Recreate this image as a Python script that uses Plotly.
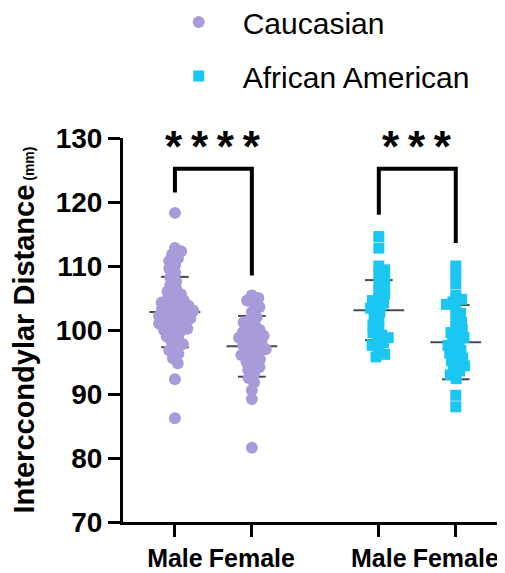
import math
import plotly.graph_objects as go

# ---------------- data ----------------
groups = ["Male", "Female", "Male", "Female"]
group_pos = [0.0, 1.0, 2.65, 3.65]

cauc_male = [118.3, 112.8, 112.3, 111.8, 111.2, 110.8, 110.2, 109.6, 109.0,
             108.2, 107.6, 107.0, 106.4, 106.0, 105.6, 105.2, 104.8, 104.6,
             104.3, 104.0, 103.8, 103.6, 103.4, 103.2, 103.0, 102.8, 102.6,
             102.4, 102.2, 102.0, 101.8, 101.6, 101.4, 101.2, 101.0, 100.7,
             100.4, 100.2, 100.0, 99.7, 99.4, 99.0, 98.6, 98.2, 97.8, 97.3,
             96.8, 96.3, 95.6, 94.8, 92.3, 86.2]
cauc_female = [105.4, 105.0, 104.6, 104.2, 103.6, 102.8, 102.0, 101.6, 101.2,
               100.8, 100.4, 100.0, 99.7, 99.4, 99.1, 98.8, 98.5, 98.2, 97.9,
               97.6, 97.3, 97.0, 96.7, 96.4, 96.1, 95.8, 95.4, 95.0, 94.6,
               94.2, 93.8, 93.2, 92.5, 91.8, 90.6, 89.2, 81.6]
aa_male = [114.6, 112.8, 110.0, 109.4, 108.8, 108.2, 107.4, 106.8, 106.2,
           105.6, 105.0, 104.6, 104.2, 103.8, 103.4, 102.8, 102.2, 101.4,
           100.8, 100.2, 99.6, 99.2, 98.8, 98.4, 98.0, 97.6, 96.8, 96.2, 95.8]
aa_female = [110.0, 108.6, 107.2, 105.4, 104.8, 104.4, 104.0, 103.4, 102.6,
             101.8, 101.2, 100.4, 100.0, 99.6, 99.2, 98.8, 98.4, 98.0, 97.6,
             97.2, 96.8, 96.4, 96.0, 95.6, 95.2, 94.8, 94.4, 94.0, 93.6, 93.0,
             92.4, 89.8, 88.0]

group_means = [102.8, 97.45, 103.1, 98.1]
group_sds = [5.5, 4.75, 4.7, 5.8]

bracket_left_end = [121.5, 118.0]
bracket_right_end = [108.5, 113.6]
bracket_top = [125.2, 125.2]
bracket_labels = ["*\u2009*\u2009*\u2009*", "*\u2009*\u2009*"]

PURPLE = "#A99ADA"
CYAN = "#1CC6F2"

X_PX = 77.0   # pixels per x unit
Y_PX = 6.4    # pixels per y unit


def swarm(vals, d_px):
    placed = []
    out = []
    for v in vals:
        y = v * Y_PX
        cands = [0.0]
        for px, py in placed:
            dy = abs(py - y)
            if dy < d_px:
                dx = math.sqrt(d_px ** 2 - dy ** 2)
                cands += [px + dx, px - dx]
        cands.sort(key=abs)
        chosen = 0.0
        for c in cands:
            if all((c - px) ** 2 + (y - py) ** 2 >= d_px ** 2 - 1e-6 for px, py in placed):
                chosen = c
                break
        placed.append((chosen, y))
        out.append(chosen / X_PX)
    return out


fig = go.Figure()

# mean and SD lines (behind points)
lx, ly = [], []
for pos, m, s in zip(group_pos, group_means, group_sds):
    for val, hw in ((m, 0.33), (m + s, 0.18), (m - s, 0.18)):
        lx += [pos - hw, pos + hw, None]
        ly += [val, val, None]
fig.add_trace(go.Scatter(x=lx, y=ly, mode="lines", showlegend=False,
                         line=dict(color="#4a4a4a", width=2), hoverinfo="skip"))

cx, cy = [], []
for pos, vals in ((group_pos[0], cauc_male), (group_pos[1], cauc_female)):
    offs = swarm(vals, 7.0)
    cx += [pos + o for o in offs]
    cy += vals
fig.add_trace(go.Scatter(x=cx, y=cy, mode="markers", name="Caucasian",
                         legendgroup="c",
                         marker=dict(symbol="circle", size=12, color=PURPLE)))

ax, ay = [], []
for pos, vals in ((group_pos[2], aa_male), (group_pos[3], aa_female)):
    offs = swarm(vals, 7.0)
    ax += [pos + o for o in offs]
    ay += vals
fig.add_trace(go.Scatter(x=ax, y=ay, mode="markers", name="African American",
                         legendgroup="a",
                         marker=dict(symbol="square", size=11, color=CYAN)))

for i in range(2):
    xl, xr = group_pos[2 * i], group_pos[2 * i + 1]
    fig.add_trace(go.Scatter(
        x=[xl, xl, xr, xr],
        y=[bracket_left_end[i], bracket_top[i], bracket_top[i], bracket_right_end[i]],
        mode="lines", showlegend=False, hoverinfo="skip",
        line=dict(color="black", width=4)))
    fig.add_annotation(x=(xl + xr) / 2, y=128.7, text="<b>" + bracket_labels[i] + "</b>",
                       showarrow=False, xref="x", yref="y",
                       font=dict(size=44, color="black",
                                 family="Liberation Sans, Arial"))

# page body has an 8px margin, so the figure is 8px smaller than the window
fig.update_layout(
    width=497, height=565,
    margin=dict(l=115, r=0, t=130, b=51, autoexpand=False),
    plot_bgcolor="white", paper_bgcolor="white",
    font=dict(family="Liberation Sans, Arial", color="black"),
    legend=dict(x=0.083, y=1.37, xanchor="left", yanchor="top",
                font=dict(size=30, color="black"),
                itemwidth=78, tracegroupgap=12, bgcolor="rgba(0,0,0,0)"),
    xaxis=dict(range=[-0.675, 4.29], showgrid=False, zeroline=False,
               showline=True, linecolor="black", linewidth=3,
               ticks="outside", ticklen=12, tickwidth=3, tickcolor="black",
               tickvals=group_pos, ticktext=["<b>%s</b>" % g for g in groups],
               tickfont=dict(size=25, color="black")),
    yaxis=dict(range=[70, 130], dtick=10, showgrid=False, zeroline=False,
               showline=True, linecolor="black", linewidth=3,
               ticks="outside", ticklen=12, tickwidth=3, tickcolor="black",
               tickfont=dict(size=28, color="black"),
               tickprefix="<b>", ticksuffix="</b>",
               title=dict(text="<b>Interccondylar Distance</b><span style='font-size:14px'><b> (mm)</b></span>",
                          font=dict(size=29, color="black"), standoff=18)),
)

fig.write_html("out.html")
